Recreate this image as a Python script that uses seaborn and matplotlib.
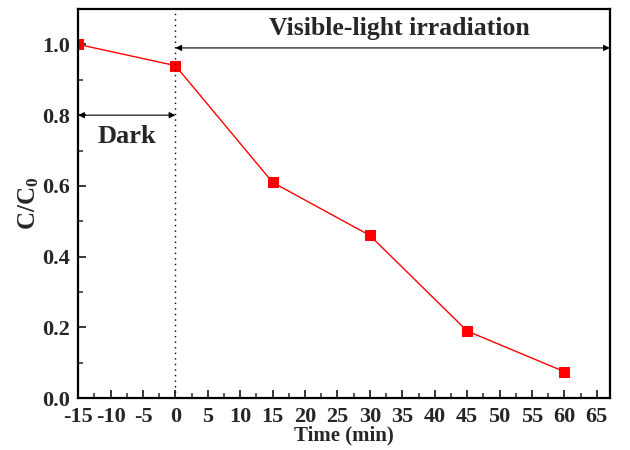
import matplotlib
matplotlib.use("Agg")
import matplotlib.pyplot as plt
import seaborn as sns
import pandas as pd

# Photocatalytic degradation data
time_min = [-15, 0, 15, 30, 45, 60]
c_ratio = [1.0, 0.94, 0.61, 0.46, 0.19, 0.075]
x_ticks = [-15, -10, -5, 0, 5, 10, 15, 20, 25, 30, 35, 40, 45, 50, 55, 60, 65]
y_ticks = [0.0, 0.2, 0.4, 0.6, 0.8, 1.0]

sns.set_theme(style="ticks")
plt.rcParams["font.family"] = ["Liberation Serif", "DejaVu Serif"]
plt.rcParams["font.weight"] = "bold"
plt.rcParams["mathtext.fontset"] = "custom"
plt.rcParams["mathtext.rm"] = "Liberation Serif:bold"
plt.rcParams["mathtext.it"] = "Liberation Serif:bold"
plt.rcParams["mathtext.bf"] = "Liberation Serif:bold"

df = pd.DataFrame({"Time": time_min, "C": c_ratio})

fig, ax = plt.subplots(figsize=(6.3, 4.5), dpi=100)
fig.subplots_adjust(left=0.124, right=0.968, top=0.98, bottom=0.115)

sns.lineplot(data=df, x="Time", y="C", ax=ax, color="red", linewidth=1.0,
             marker="s", markersize=7, markeredgecolor="red", markerfacecolor="red")

ax.set_xlim(-15, 67)
ax.set_ylim(0, 1.1)
ax.set_xticks(x_ticks)
ax.set_xticklabels([str(t) for t in x_ticks])
ax.set_yticks(y_ticks)
ax.set_yticklabels([f"{v:.1f}" for v in y_ticks])
ax.set_xticks([t + 2.5 for t in x_ticks[:-1]], minor=True)
ax.set_yticks([0.1, 0.3, 0.5, 0.7, 0.9], minor=True)

ax.tick_params(axis="both", which="major", direction="in", length=6, width=1.3,
               labelsize=16, top=False, right=False)
ax.tick_params(axis="x", which="major", pad=6)
ax.tick_params(axis="y", which="major", pad=6)
ax.tick_params(axis="both", which="minor", direction="in", length=3.5, width=1.1,
               top=False, right=False)
for lbl in ax.get_xticklabels() + ax.get_yticklabels():
    lbl.set_fontweight("bold")

for sp in ax.spines.values():
    sp.set_linewidth(1.6)
    sp.set_color("black")

ax.set_xlabel("Time (min)", fontsize=15, fontweight="bold", labelpad=-1)
ax.set_ylabel("C/C$_0$", fontsize=18, fontweight="bold", labelpad=1)

# Light-off / light-on boundary
ax.axvline(0, color="black", linestyle=(0, (1, 3)), linewidth=1.0)

# Dark period arrow
ax.annotate("", xy=(0, 0.8), xytext=(-15, 0.8),
            arrowprops=dict(arrowstyle="<|-|>", color="black", lw=0.8,
                            mutation_scale=9, shrinkA=0, shrinkB=0))
ax.text(-7.5, 0.74, "Dark", ha="center", va="center", fontsize=19, fontweight="bold")

# Irradiation period arrow
ax.annotate("", xy=(67, 0.99), xytext=(0, 0.99),
            arrowprops=dict(arrowstyle="<|-|>", color="black", lw=0.8,
                            mutation_scale=9, shrinkA=0, shrinkB=0))
ax.text(34.5, 1.045, "Visible-light irradiation", ha="center", va="center",
        fontsize=18.5, fontweight="bold")

fig.savefig("out.png", dpi=100)
